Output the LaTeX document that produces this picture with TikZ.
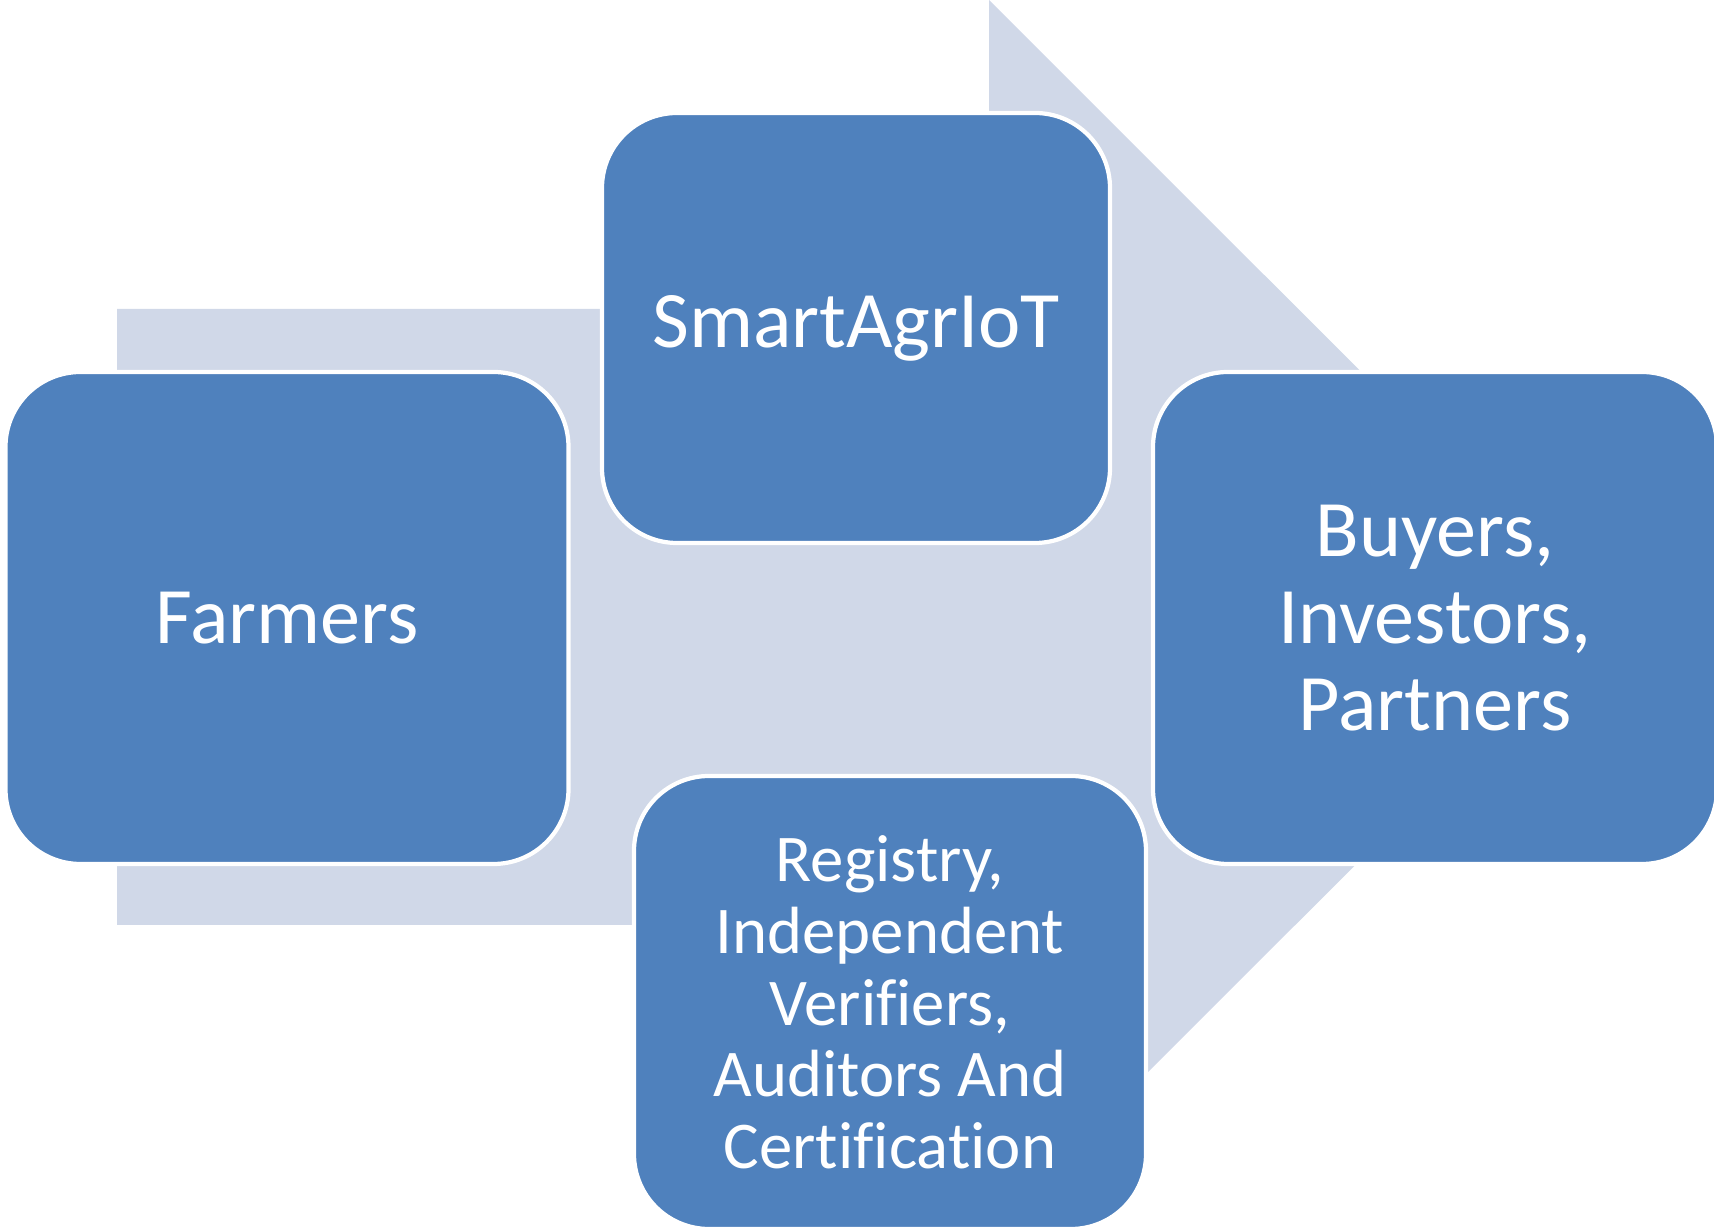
\documentclass[tikz,border=0pt]{standalone}
\usepackage{fontspec}
\setmainfont{Carlito}[Ligatures={NoCommon}]
\definecolor{boxblue}{HTML}{4F81BD}
\definecolor{arrowgrey}{HTML}{D0D8E8}
\tikzset{
  box/.style={draw=white, line width=1.2pt, fill=boxblue, rounded corners=0.75cm,
              text=white, align=center, inner sep=0pt},
  bigtext/.style={font=\fontsize{22.8}{24.8}\selectfont},
  smalltext/.style={font=\fontsize{19}{20.4}\selectfont},
}
\begin{document}
\begin{tikzpicture}

   \useasboundingbox (0,0) rectangle (17.14,-12.31);

   % background arrow
   \fill [arrowgrey] (1.17,-3.09) -- (9.89,-3.09) -- (9.89,0) -- (16.05,-6.155)
        -- (9.89,-12.31) -- (9.89,-9.25) -- (1.17,-9.25) -- cycle;

   \node (Farmers) at (2.87,-6.18) [box, bigtext, minimum width=5.63cm, minimum height=4.92cm] {Farmers};

   \node (SmartAgrIoT) at (8.56,-3.28) [box, bigtext, minimum width=5.08cm, minimum height=4.30cm] {SmartAgrIoT};

   \node (Buyers) at (14.35,-6.18) [box, bigtext, minimum width=5.64cm, minimum height=4.92cm] {Buyers,\\Investors,\\Partners};

   \node (Registry) at (8.90,-10.025) [box, smalltext, minimum width=5.12cm, minimum height=4.53cm] {Registry,\\Independent\\Verifiers,\\Auditors And\\Certification};

\end{tikzpicture}
\end{document}
